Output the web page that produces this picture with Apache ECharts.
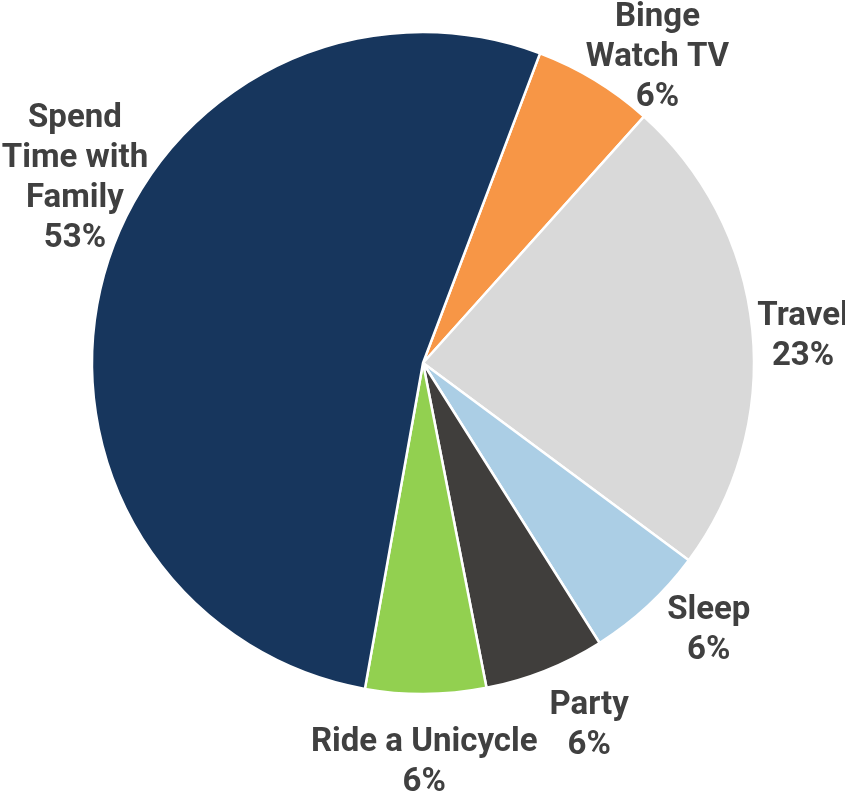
<!DOCTYPE html>
<html>
<head>
<meta charset="utf-8">
<script src="https://cdn.jsdelivr.net/npm/echarts@6/dist/echarts.min.js"></script>
<style>html,body{margin:0;padding:0;background:#fff}#c{width:845px;height:792px}</style>
</head>
<body>
<div id="c"></div>
<script>
// Data (counts; shares rounded to whole percent by the library)
const categories = ['Binge\nWatch TV', 'Travel', 'Sleep', 'Party', 'Ride a Unicycle', 'Spend\nTime with\nFamily'];
const values = [1, 4, 1, 1, 1, 9];

// Styles
const colors = ['#f79646', '#d9d9d9', '#abcee5', '#403e3c', '#92d050', '#17365d'];
const labelOffsets = [[33, 26], [-6, 13], [22, -17], [23, 2], [-2, 12], [26, -81]];

const center = [423, 363];
const startAngle = 69.3;

const chart = echarts.init(document.getElementById('c'), null, {renderer: 'canvas'});
chart.setOption({
  animation: false,
  backgroundColor: '#ffffff',
  series: [
    {
      type: 'pie',
      center: center,
      radius: [0, 331],
      startAngle: startAngle,
      clockwise: true,
      percentPrecision: 0,
      label: {show: false},
      labelLine: {show: false},
      itemStyle: {borderColor: '#ffffff', borderWidth: 2.5},
      emphasis: {disabled: true},
      data: categories.map((c, i) => ({name: c, value: values[i], itemStyle: {color: colors[i]}}))
    },
    {
      type: 'pie',
      center: center,
      radius: [331, 439],
      startAngle: startAngle,
      clockwise: true,
      percentPrecision: 0,
      silent: true,
      itemStyle: {color: 'rgba(0,0,0,0)', borderWidth: 0},
      emphasis: {disabled: true},
      labelLine: {show: false},
      label: {
        show: true,
        position: 'inside',
        formatter: '{b}\n{d}%',
        fontFamily: 'Roboto',
        fontWeight: 'bold',
        fontSize: 33,
        lineHeight: 40,
        color: '#404040',
        align: 'center'
      },
      data: categories.map((c, i) => ({name: c, value: values[i], label: {offset: labelOffsets[i]}}))
    }
  ]
});
</script>
</body>
</html>
